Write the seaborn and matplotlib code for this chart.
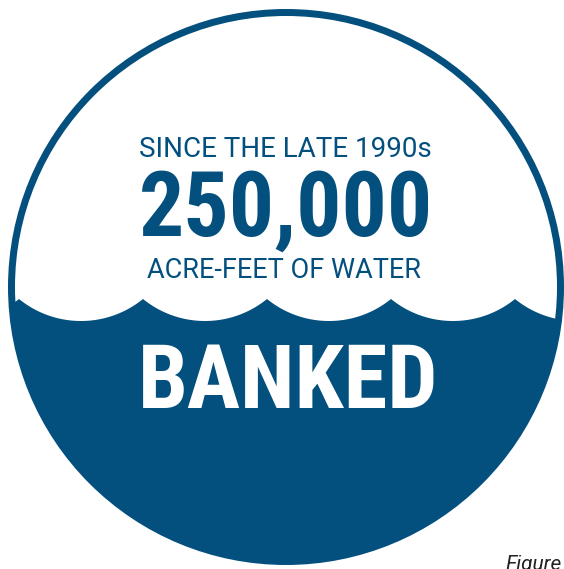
import matplotlib
matplotlib.use('Agg')
import matplotlib.pyplot as plt
import matplotlib.patches as mpatches
import seaborn as sb
import numpy as np

# values read from the infographic
acre_feet = 250000
top_line = 'SINCE THE LATE 1990s'
unit_line = 'ACRE-FEET OF WATER'
water_word = 'BANKED'
caption = 'Figure'
wave_cusps = [-105, 19, 143, 267, 391, 515, 639]  # x of the points where the arcs meet
cusp_y = 299
trough_y = 321

blue = '#034f7e'

sb.set_style('white')
plt.rcParams['font.family'] = ['Roboto Condensed', 'DejaVu Sans']

fig = plt.figure(figsize=(5.64, 5.69), dpi=100)
ax = fig.add_axes([0, 0, 1, 1])
ax.set_xlim(0, 564)
ax.set_ylim(569, 0)
ax.axis('off')

cx, cy = 286, 287
r_out, r_in = 278, 271

ax.add_patch(mpatches.Circle((cx, cy), r_out, fc=blue, ec='none'))
inner = mpatches.Circle((cx, cy), r_in, fc='none', ec='none')
ax.add_patch(inner)

# scalloped water surface, one circular arc between each pair of cusps
xs, ys = [], []
for a, b in zip(wave_cusps[:-1], wave_cusps[1:]):
    half = (b - a) / 2
    sag = trough_y - cusp_y
    R = (half ** 2 + sag ** 2) / (2 * sag)
    xx = np.linspace(a, b, 80)
    yy = trough_y - R + np.sqrt(R ** 2 - (xx - (a + half)) ** 2)
    xs.extend(xx)
    ys.extend(yy)
xs = np.array(xs)
ys = np.array(ys)
air = ax.fill_between(xs, np.full_like(ys, -20), ys, color='white', lw=0)
air.set_clip_path(inner)

reg = ['Roboto', 'DejaVu Sans']
ax.text(285, 157, top_line, ha='center', va='baseline', fontsize=20, color=blue, family=reg)
ax.text(286, 236, '{:,}'.format(acre_feet), ha='center', va='baseline', fontsize=64.5,
        fontweight='bold', color=blue)
ax.text(284, 278, unit_line, ha='center', va='baseline', fontsize=19.5, color=blue, family=reg)
ax.text(288, 408, water_word, ha='center', va='baseline', fontsize=64,
        fontweight='bold', color='white')

fig.text(505 / 564, 1 - 570 / 569, caption, ha='left', va='baseline', fontsize=15,
         style='italic', color='#222222', family=reg)

fig.savefig('out.png', dpi=100)
